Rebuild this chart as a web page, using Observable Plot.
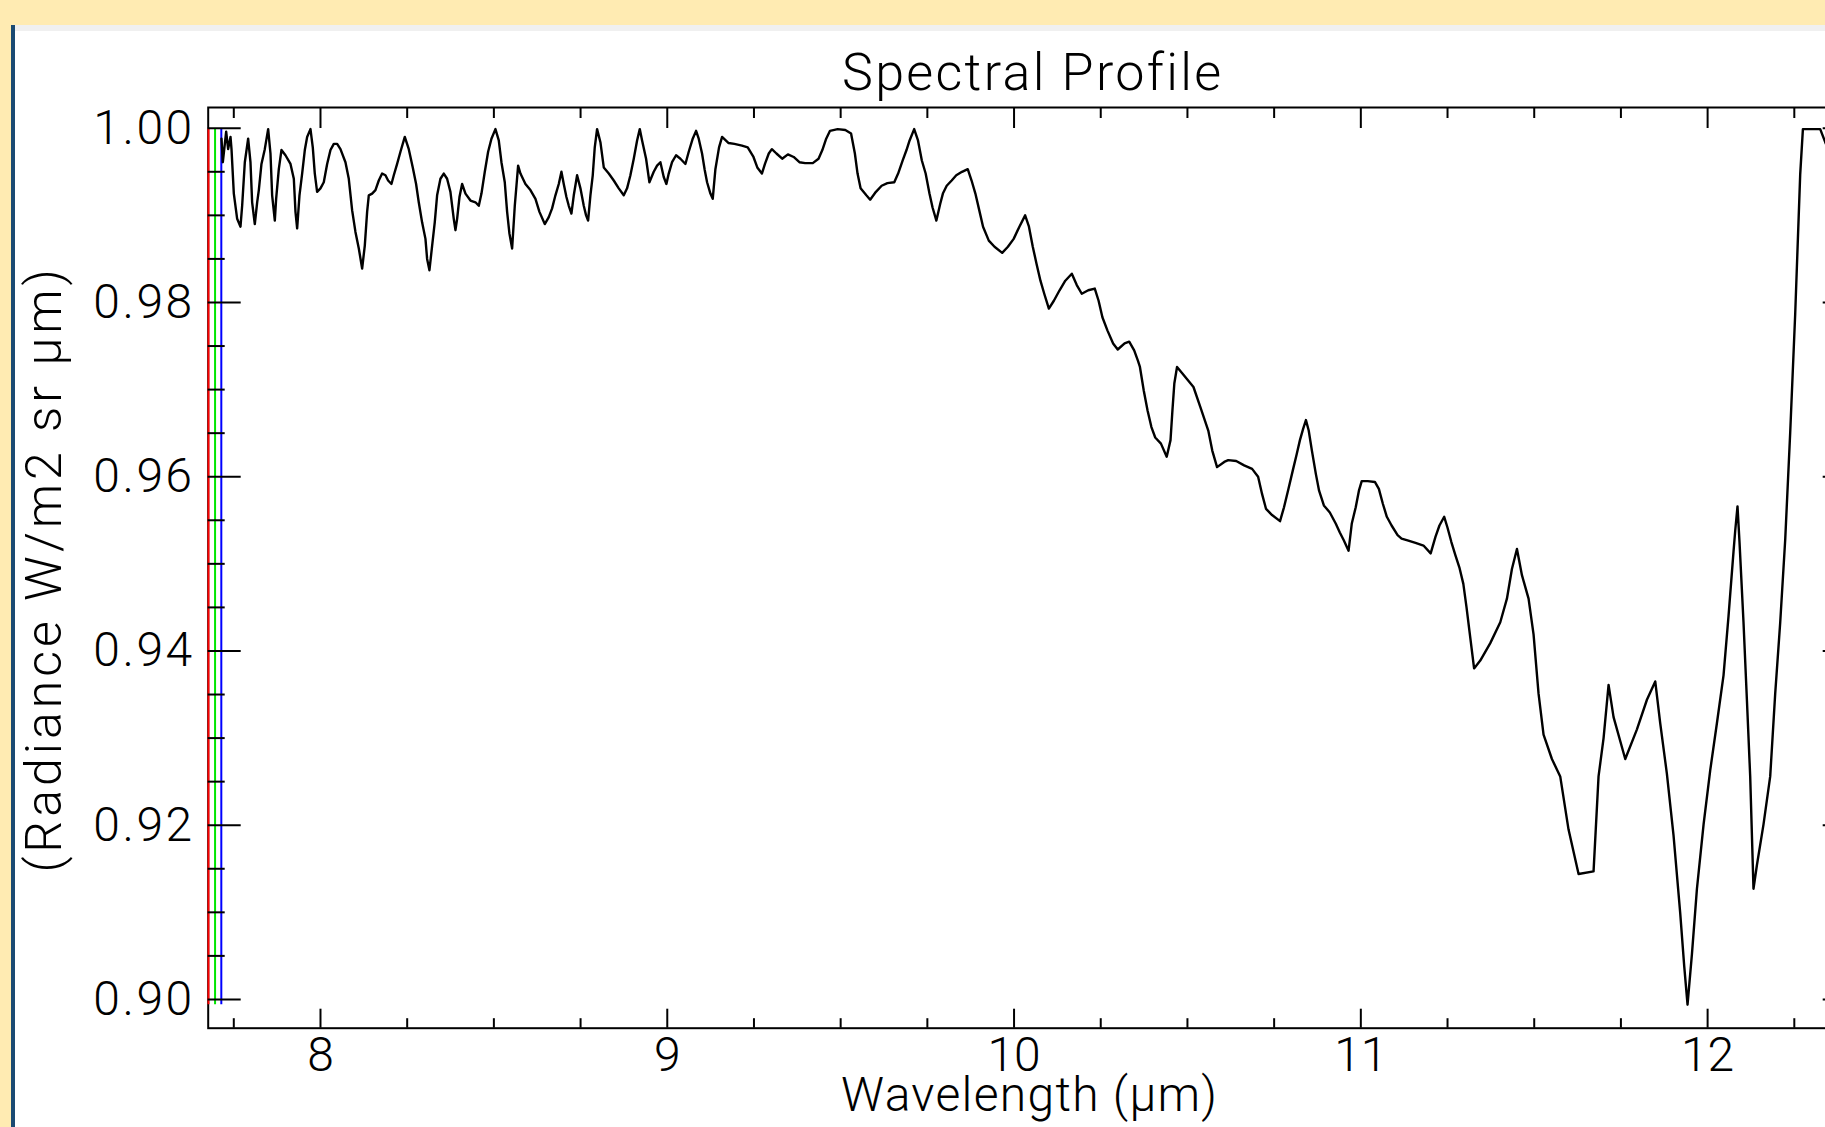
<!DOCTYPE html>
<html><head><meta charset="utf-8">
<script src="https://cdn.jsdelivr.net/npm/d3@7"></script>
<script src="https://cdn.jsdelivr.net/npm/@observablehq/plot@0.6"></script>
<style>
html,body{margin:0;padding:0;overflow:hidden;background:#fff;}
#wrap{position:relative;width:1825px;height:1127px;overflow:hidden;background:#fff;}
.topband{position:absolute;left:0;top:0;width:1825px;height:25px;background:#FFEBB2;}
.grayband{position:absolute;left:15px;top:25px;width:1810px;height:6px;background:#F0F0F0;}
.leftband{position:absolute;left:0;top:0;width:11px;height:1127px;background:#FFEBB2;}
.blueline{position:absolute;left:11px;top:25px;width:4px;height:1102px;background:#1B4A72;}
#chart{position:absolute;left:0;top:0;}
</style></head><body>
<div id="wrap">
  <div class="topband"></div>
  <div class="leftband"></div>
  <div class="grayband"></div>
  <div class="blueline"></div>
  <div id="chart"></div>
</div>
<script>
// ---- data ----
const wavelength = [7.7145,7.7184,7.7280,7.7337,7.7405,7.7434,7.7501,7.7597,7.7693,7.7741,7.7818,7.7914,7.7981,7.8029,7.8106,7.8174,7.8222,7.8298,7.8394,7.8491,7.8558,7.8606,7.8683,7.8721,7.8798,7.8875,7.8990,7.9135,7.9231,7.9279,7.9327,7.9394,7.9471,7.9548,7.9615,7.9711,7.9778,7.9836,7.9903,7.9999,8.0095,8.0192,8.0288,8.0384,8.0480,8.0576,8.0720,8.0816,8.0912,8.1008,8.1105,8.1201,8.1277,8.1345,8.1393,8.1489,8.1585,8.1681,8.1777,8.1873,8.1950,8.2046,8.2114,8.2210,8.2306,8.2431,8.2546,8.2661,8.2757,8.2834,8.2930,8.3027,8.3075,8.3142,8.3219,8.3295,8.3363,8.3459,8.3555,8.3651,8.3747,8.3843,8.3892,
8.3940,8.4008,8.4084,8.4181,8.4325,8.4469,8.4565,8.4642,8.4738,8.4834,8.4930,8.5045,8.5141,8.5218,8.5314,8.5382,8.5449,8.5526,8.5603,8.5651,8.5699,8.5766,8.5910,8.6054,8.6199,8.6314,8.6468,8.6583,8.6679,8.6775,8.6871,8.6948,8.7015,8.7092,8.7160,8.7236,8.7304,8.7400,8.7496,8.7592,8.7659,8.7717,8.7784,8.7851,8.7909,8.7976,8.8072,8.8169,8.8313,8.8457,8.8601,8.8745,8.8841,8.8937,8.9034,8.9130,8.9207,8.9274,8.9389,8.9485,8.9610,8.9706,8.9802,8.9898,8.9975,9.0042,9.0138,9.0254,9.0379,9.0523,9.0619,9.0734,9.0831,9.0907,9.1003,9.1080,9.1148,9.1244,9.1311,9.1388,
9.1493,9.1581,9.1769,9.1934,9.2155,9.2320,9.2486,9.2596,9.2729,9.2817,9.2927,9.3016,9.3148,9.3314,9.3479,9.3645,9.3810,9.3976,9.4196,9.4362,9.4472,9.4583,9.4693,9.4913,9.5134,9.5300,9.5410,9.5487,9.5575,9.5741,9.5851,9.6017,9.6182,9.6348,9.6546,9.6657,9.6789,9.6899,9.6988,9.7120,9.7230,9.7341,9.7451,9.7561,9.7650,9.7760,9.7870,9.7948,9.8058,9.8201,9.8334,9.8499,9.8665,9.8775,9.8885,9.8996,9.9106,9.9272,9.9437,9.9658,9.9823,9.9989,10.0154,10.0320,10.0430,10.0540,10.0651,10.0761,10.0871,10.1004,10.1148,10.1313,10.1478,10.1666,10.1809,10.1953,10.2140,10.2328,10.2438,10.2548,10.2692,10.2857,10.2989,10.3188,10.3321,10.3464,10.3574,
10.3630,10.3740,10.3850,10.3961,10.4071,10.4236,10.4402,10.4512,10.4567,10.4622,10.4700,10.4843,10.5009,10.5174,10.5373,
10.5601,10.5716,10.5854,10.6061,10.6176,10.6406,10.6635,10.6865,10.7038,10.7153,10.7267,10.7440,10.7670,10.7785,10.7900,10.8037,10.8152,10.8244,10.8336,10.8417,10.8497,10.8589,10.8704,10.8796,10.8934,10.9106,10.9279,10.9394,10.9508,10.9646,10.9738,10.9853,10.9945,11.0026,11.0198,11.0405,11.0520,11.0635,11.0750,11.0887,11.1060,11.1175,11.1347,11.1577,11.1807,11.2014,11.2152,11.2267,11.2404,11.2496,11.2611,11.2726,11.2841,11.2956,11.3048,11.3129,11.3266,
11.3444,11.3733,11.4021,11.4213,11.4357,11.4502,11.4646,11.4837,11.4981,11.5125,11.5269,11.5510,11.5750,11.5990,11.6279,11.6711,11.6855,11.7000,11.7144,11.7288,11.7625,11.7962,11.8250,11.8490,11.8634,11.8826,11.9018,11.9210,11.9326,11.9421,11.9548,11.9692,11.9884,12.0075,12.0268,12.0459,12.0603,12.0747,12.0796,12.0862,12.0920,12.1035,12.1133,12.1228,12.1323,12.1421,12.1612,12.1805,12.1949,12.2094,12.2238,12.2382,12.2526,12.2670,12.2748,12.3247,12.3391,12.3600];

const radiance = [0.9988,0.9961,0.9996,0.9976,0.9990,0.9976,0.9925,0.9896,0.9887,0.9911,0.9961,0.9988,0.9961,0.9915,0.9890,0.9915,0.9929,0.9959,0.9976,0.9999,0.9971,0.9923,0.9894,0.9919,0.9953,0.9975,0.9969,0.9959,0.9942,0.9904,0.9885,0.9923,0.9948,0.9975,0.9990,0.9999,0.9978,0.9948,0.9927,0.9931,0.9938,0.9959,0.9975,0.9982,0.9982,0.9976,0.9961,0.9942,0.9906,0.9881,0.9862,0.9839,0.9865,0.9904,0.9923,0.9925,0.9929,0.9940,0.9948,0.9946,0.9940,0.9936,0.9946,0.9959,0.9973,0.9990,0.9976,0.9955,0.9936,0.9915,0.9892,0.9873,0.9850,0.9837,0.9865,0.9892,0.9923,0.9942,0.9948,0.9942,0.9927,0.9896,0.9883,
0.9896,0.9921,0.9936,0.9925,0.9917,0.9915,0.9911,0.9925,0.9950,0.9973,0.9988,0.9999,0.9986,0.9961,0.9938,0.9904,0.9879,0.9862,0.9911,0.9934,0.9957,0.9948,0.9936,0.9929,0.9919,0.9904,0.9890,0.9898,0.9908,0.9923,0.9936,0.9950,0.9936,0.9921,0.9911,0.9902,0.9923,0.9946,0.9931,0.9911,0.9900,0.9894,0.9923,0.9946,0.9978,0.9999,0.9984,0.9955,0.9948,0.9940,0.9931,0.9923,0.9931,0.9946,0.9965,0.9986,0.9999,0.9986,0.9965,0.9938,0.9950,0.9957,0.9961,0.9944,0.9936,0.9948,0.9961,0.9969,0.9965,0.9959,0.9973,0.9988,0.9997,0.9988,0.9971,0.9952,0.9938,0.9925,0.9919,0.9953,
0.9978,0.9990,0.9983,0.9982,0.9980,0.9978,0.9967,0.9955,0.9948,0.9959,0.9971,0.9976,0.9971,0.9965,0.9970,0.9967,0.9961,0.9960,0.9960,0.9965,0.9975,0.9988,0.9997,0.9999,0.9998,0.9994,0.9971,0.9948,0.9931,0.9923,0.9918,0.9927,0.9934,0.9937,0.9938,0.9948,0.9963,0.9975,0.9986,0.9999,0.9986,0.9963,0.9948,0.9925,0.9909,0.9894,0.9913,0.9925,0.9934,0.9940,0.9946,0.9950,0.9953,0.9940,0.9925,0.9906,0.9887,0.9871,0.9864,0.9857,0.9864,0.9873,0.9887,0.9900,0.9887,0.9864,0.9844,0.9825,0.9810,0.9793,0.9802,0.9814,0.9825,0.9833,0.9820,0.9810,0.9814,0.9816,0.9802,0.9783,0.9768,0.9753,0.9746,0.9753,0.9755,0.9745,0.9733,
0.9726,0.9699,0.9676,0.9657,0.9645,0.9638,0.9623,0.9642,0.9676,0.9707,0.9726,0.9719,0.9711,0.9703,0.9680,
0.9653,0.9630,0.9611,0.9617,0.9619,0.9618,0.9613,0.9609,0.9600,0.9580,0.9563,0.9556,0.9549,0.9565,0.9584,0.9607,0.9626,0.9642,0.9655,0.9665,0.9653,0.9630,0.9603,0.9584,0.9567,0.9559,0.9546,0.9536,0.9527,0.9515,0.9546,0.9565,0.9584,0.9595,0.9595,0.9594,0.9586,0.9569,0.9554,0.9544,0.9533,0.9529,0.9527,0.9524,0.9521,0.9512,0.9531,0.9544,0.9554,0.9542,0.9525,0.9510,0.9496,0.9477,0.9450,0.9424,0.9380,
0.9389,0.9409,0.9433,0.9460,0.9494,0.9517,0.9487,0.9460,0.9419,0.9351,0.9304,0.9276,0.9256,0.9195,0.9144,0.9147,0.9256,0.9300,0.9361,0.9324,0.9276,0.9310,0.9344,0.9365,0.9317,0.9259,0.9188,0.9099,0.9038,0.8994,0.9052,0.9127,0.9201,0.9263,0.9317,0.9372,0.9440,0.9514,0.9538,0.9566,0.9525,0.9433,0.9344,0.9256,0.9127,0.9154,0.9201,0.9256,0.9351,0.9433,0.9528,0.9651,0.9787,0.9947,0.9999,0.9999,0.9984,0.9965];

// RGB band marker wavelengths (red, green, blue)
const bandWavelength = [7.677, 7.696, 7.714];

// tick values and labels
const xMajorTicks = [8, 9, 10, 11, 12];
const xMinorTicks = [7.75, 8.25, 8.5, 8.75, 9.25, 9.5, 9.75, 10.25, 10.5, 10.75, 11.25, 11.5, 11.75, 12.25];
const yMajorTicks = [0.90, 0.92, 0.94, 0.96, 0.98, 1.00];
const yMinorTicks = [0.905,0.91,0.915,0.925,0.93,0.935,0.945,0.95,0.955,0.965,0.97,0.975,0.985,0.99,0.995];

const titleText = "Spectral Profile";
const xLabel = "Wavelength (\u00b5m)";
const yLabel = "(Radiance W/m2 sr \u00b5m)";

// ---- styles ----
const bandColors = ["#ff0000", "#00e600", "#0000ff"];
const FONT = "Roboto, 'Liberation Sans', sans-serif";

const data = wavelength.map((w, i) => ({w, r: radiance[i]}));
const rMin = d3.min(radiance), rMax = d3.max(radiance);

const W = 1900, H = 1127;
const mL = 207.7, mT = 107, mR = W - 1854.7, mB = H - 1027.7;

const tickStyle = {fill: "none", label: null, strokeWidth: 2, stroke: "black"};
const yFmt = d3.format(".2f");

const chart = Plot.plot({
  width: W, height: H,
  marginLeft: mL, marginRight: mR, marginTop: mT, marginBottom: mB,
  x: {domain: [7.6762, 12.4256]},
  y: {domain: [0.8967, 1.00238]},
  style: {background: "transparent", maxWidth: "none", fontFamily: FONT, color: "black", overflow: "visible"},
  marks: [
    Plot.frame({stroke: "black", strokeWidth: 2}),
    ...bandWavelength.map((bw, i) => Plot.ruleX([bw], {x: d => d, y1: rMin, y2: rMax, stroke: bandColors[i], strokeWidth: 2})),
    Plot.line(data, {x: "w", y: "r", stroke: "black", strokeWidth: 2.4}),
    // inward ticks
    Plot.axisX(xMajorTicks, {anchor: "bottom", tickSize: -19, ...tickStyle}),
    Plot.axisX(xMinorTicks, {anchor: "bottom", tickSize: -9.5, ...tickStyle}),
    Plot.axisX(xMajorTicks, {anchor: "top", tickSize: -20, ...tickStyle}),
    Plot.axisX(xMinorTicks, {anchor: "top", tickSize: -10, ...tickStyle}),
    Plot.axisY(yMajorTicks, {anchor: "left", tickSize: -33, ...tickStyle}),
    Plot.axisY(yMinorTicks, {anchor: "left", tickSize: -17, ...tickStyle}),
    Plot.axisY(yMajorTicks, {anchor: "right", tickSize: -33, ...tickStyle}),
    Plot.axisY(yMinorTicks, {anchor: "right", tickSize: -17, ...tickStyle}),
    // tick labels
    Plot.axisX(xMajorTicks, {anchor: "bottom", tickSize: 0, tickPadding: 9, tickFormat: d => String(d), fontSize: 48, fontWeight: 300, label: null, fill: "black"}),
    Plot.axisY(yMajorTicks, {anchor: "left", tickSize: 0, tickPadding: 13.5, tickFormat: yFmt, fontSize: 48, fontWeight: 300, label: null, fill: "black"}),
    // title & axis labels
    Plot.text([titleText], {text: d => d, frameAnchor: "top", lineAnchor: "middle", textAnchor: "middle", dx: 1, dy: -34.5, fontSize: 52, fontWeight: 300, fill: "black"}),
    Plot.text([xLabel], {text: d => d, frameAnchor: "bottom", lineAnchor: "middle", textAnchor: "middle", dx: -2, dy: 67, fontSize: 48, fontWeight: 300, fill: "black"}),
    Plot.text([yLabel], {text: d => d, frameAnchor: "left", lineAnchor: "middle", textAnchor: "middle", dx: -163.7, dy: 1, rotate: -90, fontSize: 50, fontWeight: 300, fill: "black"})
  ]
});
document.getElementById("chart").appendChild(chart);

// letter spacing to mimic the wide vector font
const spacing = new Map([[titleText, "2.3px"], [xLabel, "1.3px"], [yLabel, "4px"]]);
yMajorTicks.forEach(v => spacing.set(yFmt(v), "2.5px"));
d3.select(chart).selectAll("text").each(function() {
  const t = this.textContent;
  if (spacing.has(t)) this.setAttribute("letter-spacing", spacing.get(t));
});
</script>
</body></html>
